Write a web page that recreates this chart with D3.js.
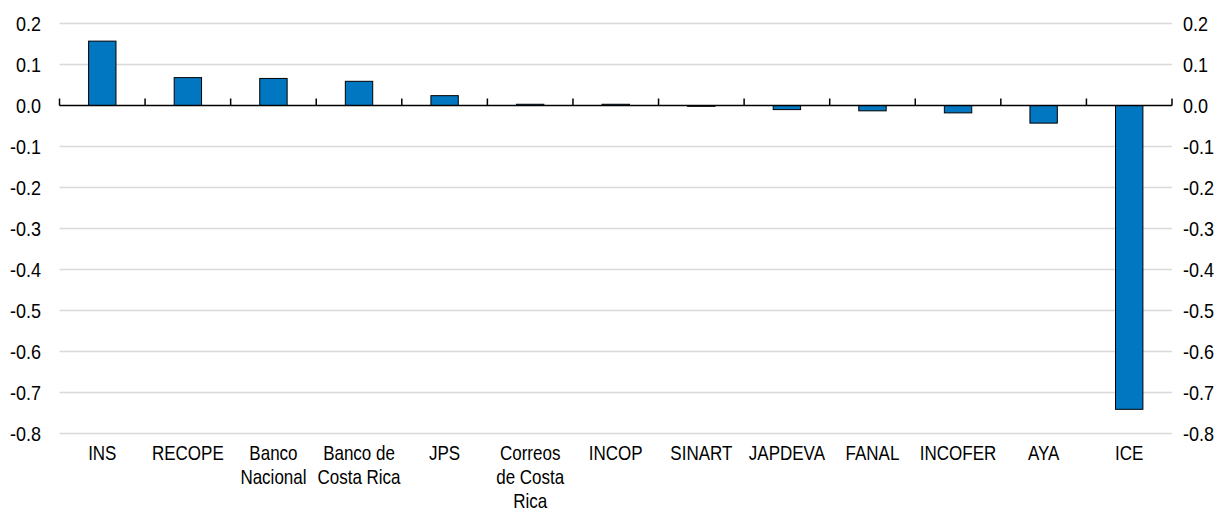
<!DOCTYPE html>
<html><head><meta charset="utf-8">
<script src="https://cdn.jsdelivr.net/npm/d3@7"></script>
<style>
body{margin:0;background:#fff;}
text{font-family:"Liberation Sans",Arial,sans-serif;font-size:20px;fill:#000;}
</style></head>
<body><svg id="c" width="1232" height="513"></svg>
<script>
const categories = ["INS","RECOPE","Banco Nacional","Banco de Costa Rica","JPS","Correos de Costa Rica","INCOP","SINART","JAPDEVA","FANAL","INCOFER","AYA","ICE"];
const labelLines = [["INS"],["RECOPE"],["Banco","Nacional"],["Banco de","Costa Rica"],["JPS"],["Correos","de Costa","Rica"],["INCOP"],["SINART"],["JAPDEVA"],["FANAL"],["INCOFER"],["AYA"],["ICE"]];
const values = [0.157,0.068,0.066,0.059,0.024,0.003,0.003,-0.002,-0.010,-0.013,-0.018,-0.043,-0.741];
const yTicks = [0.2,0.1,0.0,-0.1,-0.2,-0.3,-0.4,-0.5,-0.6,-0.7,-0.8];

const svg = d3.select("#c");
const x = d3.scaleBand().domain(categories).range([59.5,1172]).paddingInner(0.68).paddingOuter(0.34);
const y = d3.scaleLinear().domain([-0.8,0.2]).range([433.5,23.5]);
const fmt = d3.format(".1f");
const lab = v => fmt(v).replace("−","-");

// gridlines
svg.append("g").selectAll("line").data(yTicks.filter(v=>v!==0)).join("line")
  .attr("x1",59.5).attr("x2",1172).attr("y1",d=>y(d)).attr("y2",d=>y(d))
  .attr("stroke","#d9d9d9").attr("stroke-width",1.5);

// left axis labels
svg.append("g").selectAll("text").data(yTicks).join("text")
  .attr("transform",d=>`translate(41,${y(d)}) scale(0.9,1)`)
  .attr("dy","0.36em").attr("text-anchor","end").text(lab);
// right axis labels
svg.append("g").selectAll("text").data(yTicks).join("text")
  .attr("transform",d=>`translate(1183,${y(d)}) scale(0.9,1)`)
  .attr("dy","0.36em").attr("text-anchor","start").text(lab);

// bars
svg.append("g").selectAll("rect").data(categories).join("rect")
  .attr("x",d=>x(d)).attr("width",x.bandwidth())
  .attr("y",(d,i)=>Math.min(y(values[i]),y(0)))
  .attr("height",(d,i)=>Math.abs(y(values[i])-y(0)))
  .attr("fill","#0077c0").attr("stroke","#000").attr("stroke-width",1);

// zero axis
const step = x.step();
const bounds = d3.range(categories.length+1).map(i=>59.5+i*step);
svg.append("line").attr("x1",59.5).attr("x2",1172).attr("y1",y(0)).attr("y2",y(0))
  .attr("stroke","#000").attr("stroke-width",1.5);
svg.append("g").selectAll("line").data(bounds).join("line")
  .attr("x1",d=>d).attr("x2",d=>d).attr("y1",y(0)).attr("y2",y(0)-7)
  .attr("stroke","#000").attr("stroke-width",1.5);

// category labels
const cg = svg.append("g").selectAll("text").data(categories).join("text")
  .attr("text-anchor","middle")
  .attr("transform",d=>`translate(${x(d)+x.bandwidth()/2},460) scale(0.85,1)`);
cg.selectAll("tspan").data((d,i)=>labelLines[i]).join("tspan")
  .attr("x",0).attr("dy",(d,j)=>j===0?0:24).text(d=>d);
</script></body></html>
